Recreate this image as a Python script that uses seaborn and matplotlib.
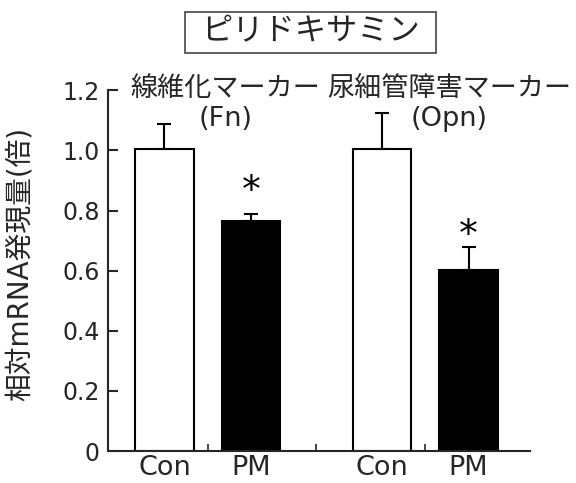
import numpy as np
import pandas as pd
import matplotlib
matplotlib.use('Agg')
import matplotlib.pyplot as plt
from matplotlib.patches import Rectangle
import seaborn as sns

# Data
groups = ['Con', 'PM', 'Con', 'PM']
positions = [0, 1, 2.5, 3.5]
means = [1.005, 0.766, 1.004, 0.602]
errors = [0.082, 0.024, 0.122, 0.078]
bar_colors = ['white', 'black', 'white', 'black']
marker_titles = ['線維化マーカー\n(Fn)', '尿細管障害マーカー\n(Opn)']
marker_centers = [0.7, 3.28]
star_heights = [0.862, 0.715]
star_positions = [1, 3.5]
yticks = [0, 0.2, 0.4, 0.6, 0.8, 1.0, 1.2]
ytick_labels = ['0', '0.2', '0.4', '0.6', '0.8', '1.0', '1.2']

sns.set_style('ticks')
plt.rcParams['font.family'] = ['DejaVu Sans', 'Noto Sans CJK JP']

df = pd.DataFrame({'pos': positions, 'value': means, 'group': groups})

fig = plt.figure(figsize=(5.76, 4.83), dpi=100)
ax = fig.add_axes([0.1875, 0.066, 0.733, 0.747])

sns.barplot(data=df, x='pos', y='value', native_scale=True, width=0.67,
            errorbar=None, color='white', edgecolor='black', linewidth=1.5, ax=ax)
for patch, c in zip(ax.patches, bar_colors):
    patch.set_facecolor(c)

ax.errorbar(positions, means, yerr=[np.zeros(len(errors)), errors], fmt='none',
            ecolor='black', elinewidth=1.5, capsize=5, capthick=1.5, zorder=1)

for x, y in zip(star_positions, star_heights):
    ax.text(x, y, '*', ha='center', va='center', fontsize=27, color='black')

for x, t in zip(marker_centers, marker_titles):
    ax.text(x, 1.062, t, ha='center', va='bottom', fontsize=19.5,
            linespacing=1.2, clip_on=False)

ax.set_xlim(-0.65, 4.21)
ax.set_ylim(0, 1.2)
ax.set_yticks(yticks)
ax.set_yticklabels(ytick_labels)
ax.set_xticks(positions)
ax.set_xticklabels(groups)
ax.set_xticks([0.5, 1.75, 3.0], minor=True)
ax.tick_params(axis='x', which='major', length=0, labelsize=19.5, pad=3)
ax.tick_params(axis='x', which='minor', direction='in', length=5, width=1.2)
ax.tick_params(axis='y', direction='in', length=7, width=1.5, labelsize=17, pad=6)
ax.set_xlabel('')
ax.set_ylabel('相対mRNA発現量(倍)', fontsize=20, labelpad=10)
ax.yaxis.set_label_coords(-0.175, 0.52)
sns.despine(ax=ax)
for s in ['left', 'bottom']:
    ax.spines[s].set_linewidth(1.5)

# boxed title
fig.patches.append(Rectangle((185 / 576, 1 - 53 / 483), 251 / 576, 41 / 483,
                             transform=fig.transFigure, facecolor='white',
                             edgecolor='#444444', linewidth=1.2))
fig.text(0.539, 0.934, 'ピリドキサミン', ha='center', va='center', fontsize=22.5)

fig.savefig('out.png', dpi=100)
